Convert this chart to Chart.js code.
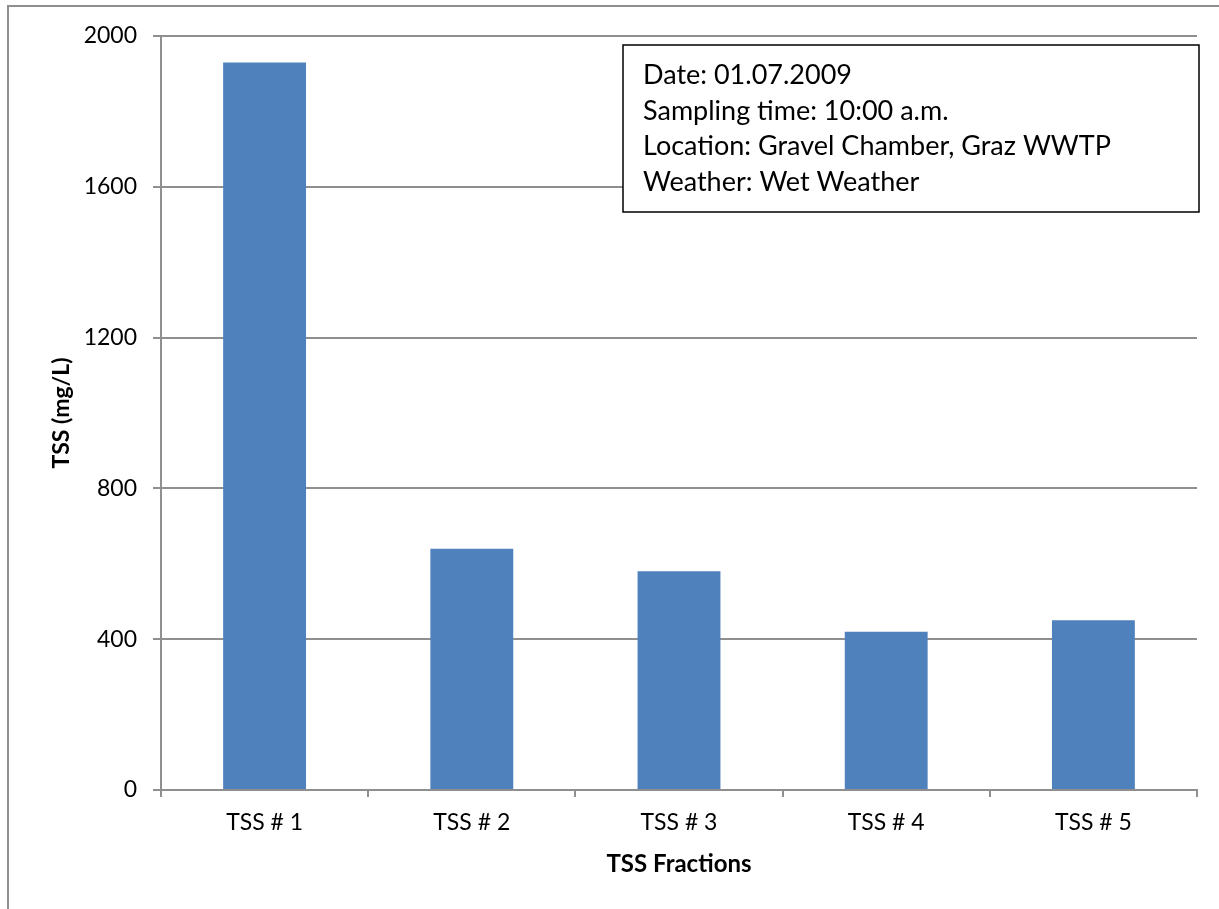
<!DOCTYPE html>
<html>
<head>
<meta charset="utf-8">
<script src="https://cdn.jsdelivr.net/npm/chart.js@4/dist/chart.umd.min.js"></script>
<style>
  html, body { margin: 0; padding: 0; background: #ffffff; }
  #wrap { width: 1219px; height: 909px; position: relative; }
</style>
</head>
<body>
<div id="wrap"><canvas id="chart" width="1219" height="909"></canvas></div>
<script>
// TSS fractions measured in the gravel chamber sample
const categories = ['TSS # 1', 'TSS # 2', 'TSS # 3', 'TSS # 4', 'TSS # 5'];
const tssValues = [1930, 640, 580, 420, 450];
const yTicks = [0, 400, 800, 1200, 1600, 2000];
const infoLines = [
  'Date: 01.07.2009',
  'Sampling time: 10:00 a.m.',
  'Location: Gravel Chamber, Graz WWTP',
  'Weather: Wet Weather'
];

const FONT = 'Lato, "Open Sans", sans-serif';
const GRID = '#8f8f8f';

// Outer frame lines and the sample information box
const decorations = {
  id: 'decorations',
  beforeDraw(chart) {
    const ctx = chart.ctx;
    ctx.save();
    ctx.fillStyle = '#ffffff';
    ctx.fillRect(0, 0, chart.width, chart.height);
    ctx.strokeStyle = GRID;
    ctx.lineWidth = 2;
    ctx.beginPath();
    ctx.moveTo(8, chart.height);
    ctx.lineTo(8, 6);
    ctx.lineTo(chart.width, 6);
    ctx.stroke();
    ctx.restore();
  },
  afterDraw(chart) {
    const ctx = chart.ctx;
    ctx.save();
    const bx = 623, by = 45, bw = 576, bh = 167;
    ctx.fillStyle = '#ffffff';
    ctx.fillRect(bx, by, bw, bh);
    ctx.strokeStyle = '#000000';
    ctx.lineWidth = 1.5;
    ctx.strokeRect(bx, by, bw, bh);
    ctx.fillStyle = '#000000';
    ctx.font = '27px ' + FONT;
    ctx.textBaseline = 'middle';
    ctx.textAlign = 'left';
    infoLines.forEach((line, i) => {
      ctx.fillText(line, 643, 75 + i * 35.8);
    });
    ctx.restore();
  }
};

new Chart(document.getElementById('chart'), {
  type: 'bar',
  data: {
    labels: categories,
    datasets: [{
      data: tssValues,
      backgroundColor: '#4F81BD',
      borderWidth: 0,
      barPercentage: 0.4,
      categoryPercentage: 1.0
    }]
  },
  options: {
    responsive: false,
    animation: false,
    events: [],
    layout: { padding: { left: 0, right: 22, top: 36, bottom: 0 } },
    plugins: {
      legend: { display: false },
      tooltip: { enabled: false }
    },
    scales: {
      x: {
        afterFit(scale) { scale.height = 119; },
        grid: {
          display: true,
          offset: true,
          drawOnChartArea: false,
          drawTicks: true,
          tickLength: 7,
          color: GRID,
          lineWidth: 2
        },
        border: { display: true, color: GRID, width: 2 },
        ticks: {
          color: '#000000',
          font: { family: FONT, size: 23 },
          padding: 12,
          maxRotation: 0
        },
        title: {
          display: true,
          text: 'TSS Fractions',
          color: '#000000',
          font: { family: FONT, size: 24, weight: 'bold' },
          padding: { top: 0, bottom: 30 }
        }
      },
      y: {
        min: 0,
        max: 2000,
        afterFit(scale) { scale.width = 161; },
        afterBuildTicks(scale) { scale.ticks = yTicks.map(v => ({ value: v })); },
        grid: {
          display: true,
          drawTicks: true,
          tickLength: 8,
          color: GRID,
          lineWidth: 2
        },
        border: { display: true, color: GRID, width: 2 },
        ticks: {
          color: '#000000',
          font: { family: FONT, size: 23 },
          padding: 16,
          callback: (value) => String(value)
        },
        title: {
          display: true,
          text: 'TSS (mg/L)',
          color: '#000000',
          font: { family: FONT, size: 23, weight: 'bold' },
          padding: { top: 48, bottom: 0 }
        }
      }
    }
  },
  plugins: [decorations]
});
</script>
</body>
</html>
